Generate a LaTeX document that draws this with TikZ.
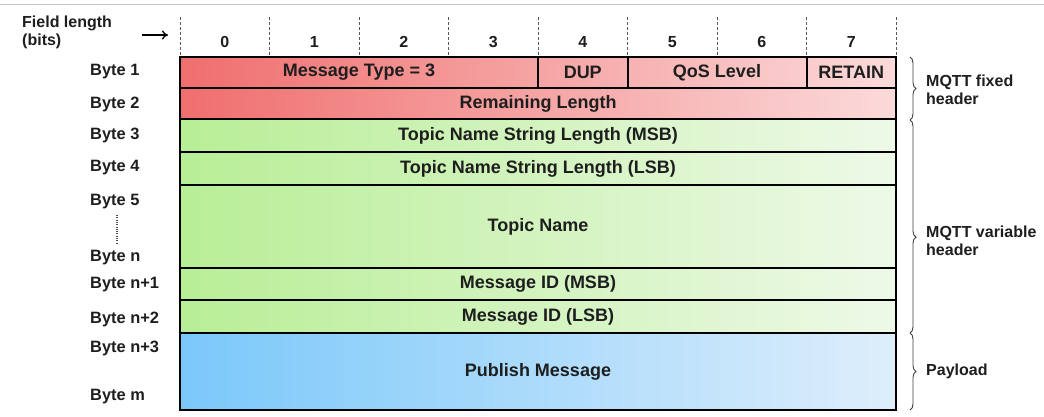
\documentclass[tikz,border=0pt]{standalone}
\usepackage{fontspec}
\setmainfont{Liberation Sans}
\usetikzlibrary{decorations.pathreplacing,arrows.meta}

\definecolor{redL}{RGB}{240,110,110}
\definecolor{redR}{RGB}{251,218,218}
\definecolor{grnL}{RGB}{184,238,150}
\definecolor{grnR}{RGB}{238,249,232}
\definecolor{bluL}{RGB}{122,200,250}
\definecolor{bluR}{RGB}{222,238,251}
\definecolor{ink}{RGB}{30,30,30}

\tikzset{
  cell/.style={draw=black, line width=2pt, inner sep=0pt, text=ink, font=\fontsize{18}{20}\selectfont\bfseries},
  bytelbl/.style={anchor=west, inner sep=0pt, text=ink, font=\fontsize{16.4}{18}\selectfont\bfseries},
  bitnum/.style={inner sep=0pt, text=ink, font=\fontsize{16}{18}\selectfont\bfseries},
  grpbrace/.style={decorate, decoration={brace, amplitude=6pt}, line width=0.9pt, black!75},
  grplbl/.style={anchor=west, align=left, inner sep=0pt, text=ink, font=\fontsize{16}{18}\selectfont\bfseries},
  tick/.style={gray!70!black, line width=1pt, dash pattern=on 3pt off 2pt},
}

\begin{document}
\begin{tikzpicture}[x=1pt,y=-1pt]
\useasboundingbox (0,0) rectangle (1044,417);
\fill[white] (0,0) rectangle (1044,417);

% thin rule along the top
\draw[gray!45, line width=1pt] (0,5) -- (1044,5);

% bit-column header
\node[grplbl] (fl) at (22,32) {Field length\\(bits)};
\coordinate (arrS) at (142,35);
\coordinate (arrE) at (168,35);
\draw[-{To[length=6pt,width=9pt]}, line width=1.3pt] (arrS) -- (arrE);

\foreach \i in {0,...,8} {
  \draw[tick] (180+89.5*\i,17) -- (180+89.5*\i,57);
}
\foreach \i in {0,...,7} {
  \node[bitnum] (b\i) at (224.75+89.5*\i,42) {\i};
}

% row backgrounds (gradient spans the full width)
\shade[left color=redL, right color=redR] (180,57) rectangle (896,119);
\shade[left color=grnL, right color=grnR] (180,119) rectangle (896,333);
\shade[left color=bluL, right color=bluR] (180,333) rectangle (896,410);

% byte 1 fields
\node[cell, minimum width=358pt, minimum height=31pt] (mtype) at (359,72.5) {Message Type = 3};
\node[cell, minimum width=89.5pt, minimum height=31pt] (dup) at (582.75,72.5) {DUP};
\node[cell, minimum width=179pt, minimum height=31pt] (qos) at (717,72.5) {QoS Level};
\node[cell, minimum width=89.5pt, minimum height=31pt] (retain) at (851.25,72.5) {RETAIN};

% full-width rows
\node[cell, minimum width=716pt, minimum height=31pt] (remlen) at (538,103.5) {Remaining Length};
\node[cell, minimum width=716pt, minimum height=33pt] (tmsb) at (538,135.5) {Topic Name String Length (MSB)};
\node[cell, minimum width=716pt, minimum height=33pt] (tlsb) at (538,168.5) {Topic Name String Length (LSB)};
\node[cell, minimum width=716pt, minimum height=83pt] (tname) at (538,226.5) {Topic Name};
\node[cell, minimum width=716pt, minimum height=32pt] (idmsb) at (538,284) {Message ID (MSB)};
\node[cell, minimum width=716pt, minimum height=33pt] (idlsb) at (538,316.5) {Message ID (LSB)};
\node[cell, minimum width=716pt, minimum height=77pt] (pub) at (538,371.5) {Publish Message};

% byte labels
\node[bytelbl] (l1) at (90,72) {Byte 1};
\node[bytelbl] (l2) at (90,104) {Byte 2};
\node[bytelbl] (l3) at (90,135) {Byte 3};
\node[bytelbl] (l4) at (90,168) {Byte 4};
\node[bytelbl] (l5) at (90,202) {Byte 5};
\node[bytelbl] (ln) at (90,258) {Byte n};
\node[bytelbl] (ln1) at (90,285) {Byte n+1};
\node[bytelbl] (ln2) at (90,319) {Byte n+2};
\node[bytelbl] (ln3) at (90,348) {Byte n+3};
\node[bytelbl] (lm) at (90,397) {Byte m};
\coordinate (dotA) at (117,215);
\coordinate (dotB) at (117,243);
\draw[black!70, line width=1.2pt, dash pattern=on 1pt off 1.3pt] (dotA) -- (dotB);

% grouping braces
\draw[grpbrace] (910,57) -- (910,120);
\draw[grpbrace, decoration={aspect=0.55}] (910,120) -- (910,333);
\draw[grpbrace] (910,333) -- (910,410);
\node[grplbl] (gfix) at (926,90) {MQTT fixed\\header};
\node[grplbl] (gvar) at (926,241) {MQTT variable\\header};
\node[grplbl] (gpay) at (926,371) {Payload};
\end{tikzpicture}
\end{document}
